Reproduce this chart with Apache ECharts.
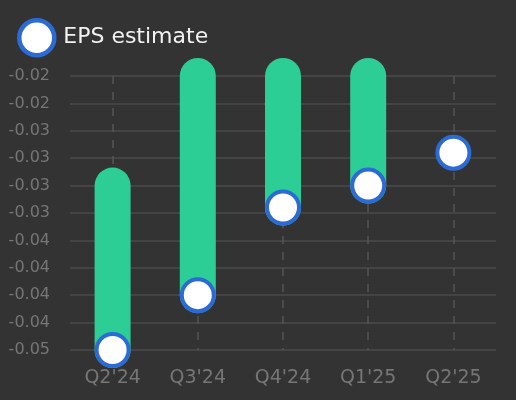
<!DOCTYPE html>
<html>
<head>
<meta charset="utf-8">
<script src="https://cdn.jsdelivr.net/npm/echarts@6/dist/echarts.min.js"></script>
<style>
  html, body { margin: 0; padding: 0; background: #333333; }
  #chart { width: 516px; height: 400px; }
</style>
</head>
<body>
<div id="chart"></div>
<script>
// quarters on the x axis
const quarters = ["Q2'24", "Q3'24", "Q4'24", "Q1'25", "Q2'25"];
// top end of each green bar (null = no bar)
const barTop = [-0.035, -0.025, -0.025, -0.025, null];
// EPS estimate markers (also the bottom end of the bars)
const epsEstimate = [-0.05, -0.045, -0.037, -0.035, -0.032];

const chart = echarts.init(document.getElementById('chart'));

// labels on this axis are cut, not rounded, to two decimals
const cutLabel = v => (Math.trunc(Math.round(v * 10000) / 100) / 100).toFixed(2);

chart.setOption({
  backgroundColor: '#333333',
  textStyle: { fontFamily: 'DejaVu Sans' },
  legend: {
    left: 12, top: 13,
    data: ['EPS estimate'],
    icon: 'circle',
    itemWidth: 35, itemHeight: 35, itemGap: 8,
    itemStyle: { borderWidth: 4.5 },
    textStyle: { color: '#f2f2f2', fontSize: 22, fontFamily: 'DejaVu Sans', padding: [0, 0, 0, 4] },
  },
  grid: { left: 70, right: 20, top: 76, bottom: 50 },
  xAxis: {
    type: 'category',
    data: quarters,
    axisLine: { show: false },
    axisTick: { show: false },
    axisLabel: { color: '#767676', fontSize: 19, margin: 19 },
    splitLine: { show: true, alignWithLabel: true, lineStyle: { color: '#555555', type: [8, 8], width: 1.5 } },
  },
  yAxis: {
    type: 'value',
    min: -0.05, max: -0.025, interval: 0.0025,
    axisLabel: { color: '#767676', fontSize: 16, margin: 20, formatter: cutLabel },
    splitLine: { lineStyle: { color: '#4b4b4b', width: 1.5 } },
  },
  series: [
    {
      type: 'custom',
      name: 'range',
      data: quarters.map((q, i) => [i, barTop[i], epsEstimate[i]]),
      renderItem: (params, api) => {
        if (api.value(1) == null || isNaN(api.value(1))) return null;
        const p1 = api.coord([api.value(0), api.value(1)]);
        const p2 = api.coord([api.value(0), api.value(2)]);
        return {
          type: 'line',
          shape: { x1: p1[0], y1: p1[1], x2: p2[0], y2: p2[1] },
          style: { stroke: '#2dcd96', lineWidth: 36, lineCap: 'round' },
        };
      },
      z: 2,
    },
    {
      type: 'scatter',
      name: 'EPS estimate',
      data: epsEstimate,
      symbol: 'circle',
      symbolSize: 32,
      itemStyle: { color: '#ffffff', borderColor: '#2c6bd5', borderWidth: 4, opacity: 1 },
      z: 3,
    },
  ],
});
</script>
</body>
</html>
